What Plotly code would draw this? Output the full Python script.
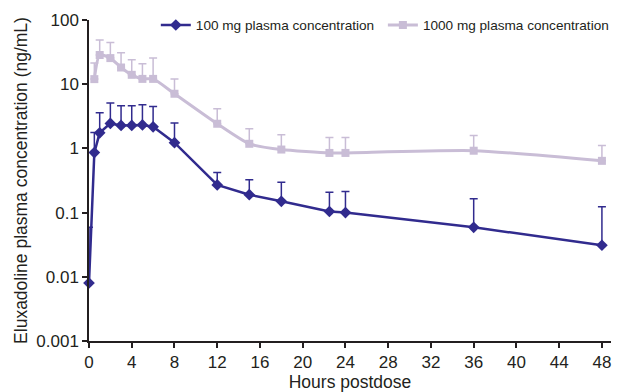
import plotly.graph_objects as go

hours = [0, 0.5, 1, 2, 3, 4, 5, 6, 8, 12, 15, 18, 22.5, 24, 36, 48]
conc_100 = [0.008, 0.86, 1.75, 2.45, 2.28, 2.28, 2.32, 2.17, 1.23, 0.27, 0.19, 0.15, 0.104, 0.10, 0.059, 0.031]
upper_100 = [0.059, 1.77, 3.6, 5.1, 4.6, 4.6, 4.8, 4.5, 2.48, 0.42, 0.326, 0.296, 0.207, 0.214, 0.165, 0.123]
conc_1000 = [None, 12.0, 28.5, 25.5, 18.2, 14.0, 12.1, 12.1, 7.1, 2.42, 1.18, 0.96, 0.85, 0.85, 0.92, 0.64]
upper_1000 = [None, 21.3, 49, 44.6, 31, 24, 20.8, 25.5, 12.1, 4.14, 2.02, 1.63, 1.48, 1.48, 1.59, 1.11]

x_ticks = list(range(0, 49, 4))
y_ticks = [0.001, 0.01, 0.1, 1, 10, 100]
y_tick_labels = ["0.001", "0.01", "0.1", "1", "10", "100"]

names = ["100 mg plasma concentration", "1000 mg plasma concentration"]
purple = "#312b8e"
lilac = "#c9bdd6"


def err_plus(vals, ups):
    return [None if v is None else u - v for v, u in zip(vals, ups)]


fig = go.Figure()
fig.add_trace(go.Scatter(
    x=hours, y=conc_1000, name=names[1], mode="lines+markers",
    line=dict(color=lilac, width=3, shape="spline", smoothing=0.6),
    marker=dict(symbol="square", size=8, color=lilac),
    error_y=dict(type="data", symmetric=False, array=err_plus(conc_1000, upper_1000),
                 arrayminus=[0] * len(hours), color=lilac, thickness=1.5, width=4),
    connectgaps=True, cliponaxis=False, legend="legend2",
))
fig.add_trace(go.Scatter(
    x=hours, y=conc_100, name=names[0], mode="lines+markers",
    line=dict(color=purple, width=2.5),
    marker=dict(symbol="diamond", size=9, color=purple),
    error_y=dict(type="data", symmetric=False, array=err_plus(conc_100, upper_100),
                 arrayminus=[0] * len(hours), color=purple, thickness=1.5, width=4),
    cliponaxis=False, legend="legend",
))

leg_common = dict(orientation="h", xanchor="left", yanchor="middle", y=0.984,
                  font=dict(size=13.6), bgcolor="rgba(0,0,0,0)", itemwidth=30)

fig.update_layout(
    width=619, height=392,
    margin=dict(l=89, r=8, t=20, b=51, autoexpand=False),
    paper_bgcolor="white", plot_bgcolor="white",
    font=dict(family="Liberation Sans, Arial, sans-serif", size=17, color="#231f20"),
    showlegend=True,
    legend=dict(x=0.128, **leg_common),
    legend2=dict(x=0.563, **leg_common),
    xaxis=dict(range=[0, 48.85], tickvals=x_ticks, ticks="outside", ticklen=5,
               tickwidth=1.5, tickcolor="#231f20", showline=True, linecolor="#231f20",
               linewidth=1.5, showgrid=False, zeroline=False,
               title=dict(text="Hours postdose", standoff=4, font=dict(size=17.5))),
    yaxis=dict(type="log", range=[-3, 2], tickvals=y_ticks, ticktext=y_tick_labels,
               ticks="outside", ticklen=5, tickwidth=1.5, tickcolor="#231f20",
               showline=True, linecolor="#231f20", linewidth=1.5, showgrid=False,
               zeroline=False,
               title=dict(text="Eluxadoline plasma concentration (ng/mL)", standoff=4,
                          font=dict(size=17.5))),
)

fig.write_html("out.html")
